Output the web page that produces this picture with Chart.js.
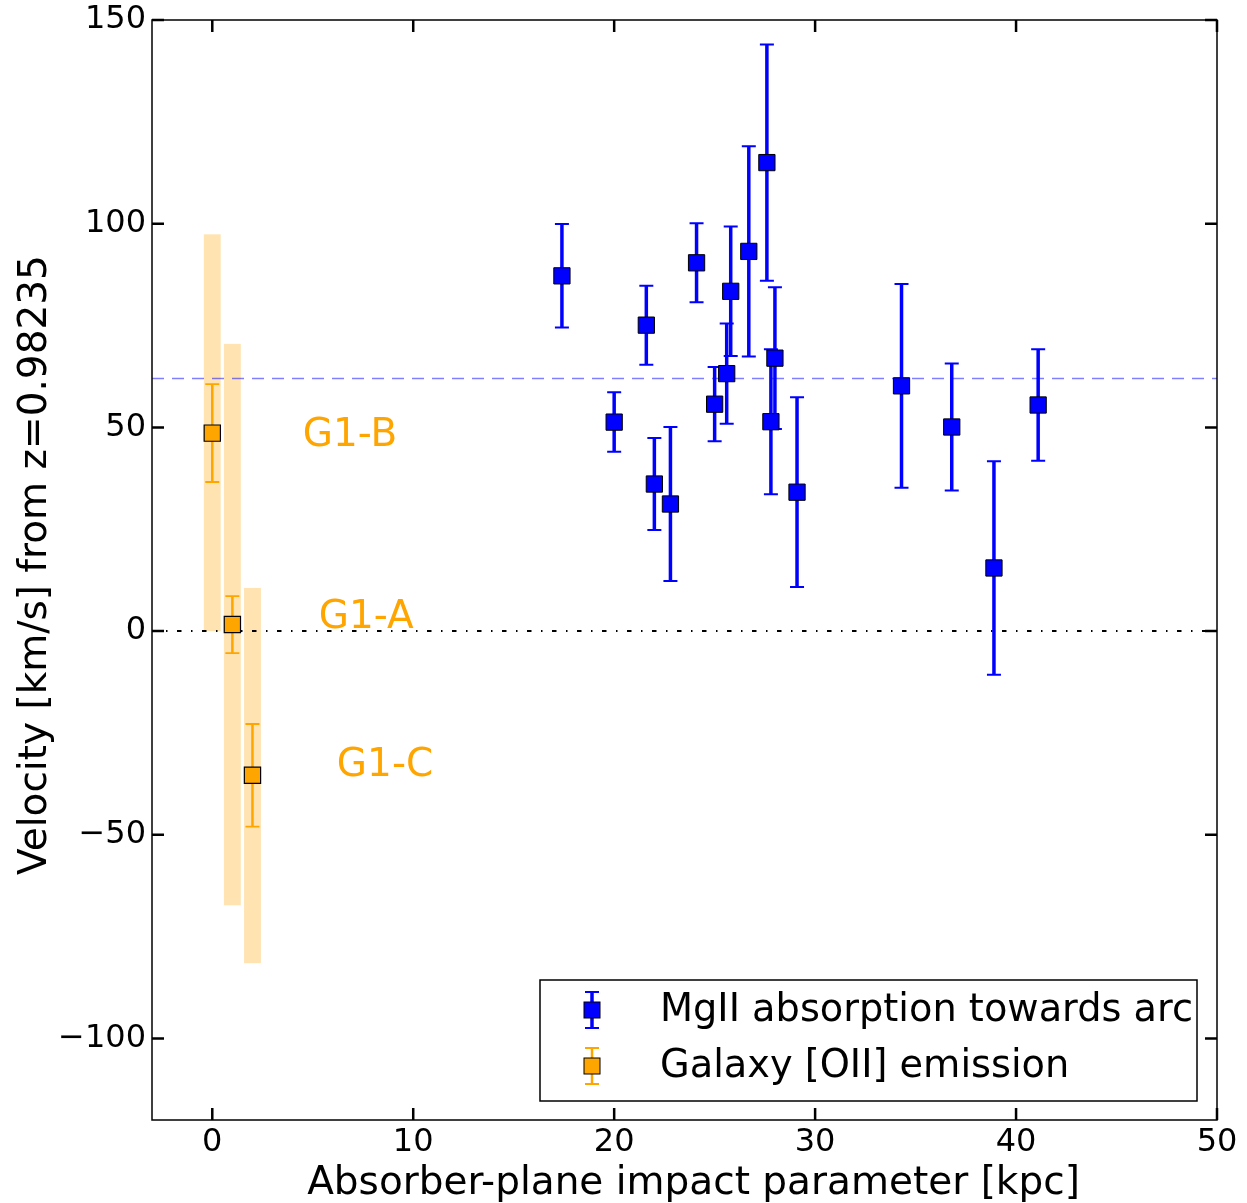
<!DOCTYPE html>
<html>
<head>
<meta charset="utf-8">
<script src="https://cdn.jsdelivr.net/npm/chart.js@4.4.1/dist/chart.umd.min.js"></script>
<style>
  html, body { margin: 0; padding: 0; background: #ffffff; }
  #wrap { width: 1247px; height: 1203px; }
</style>
</head>
<body>
<div id="wrap"><canvas id="chart" width="1247" height="1203"></canvas></div>
<script>
// MgII absorption along the arc: impact parameter [kpc], velocity [km/s], 1-sigma error [km/s]
const mgDistance = [17.4, 20.0, 21.6, 22.0, 22.8, 24.1, 25.0, 25.6, 25.8, 26.7, 27.6, 27.8, 28.0, 29.1, 34.3, 36.8, 38.9, 41.1];
const mgVelocity = [87.2, 51.3, 75.1, 36.1, 31.2, 90.4, 55.7, 63.2, 83.4, 93.2, 115.0, 51.4, 67.0, 34.1, 60.2, 50.1, 15.5, 55.5];
const mgError    = [12.7, 7.3, 9.7, 11.3, 18.9, 9.7, 9.1, 12.3, 15.9, 25.8, 29.0, 17.8, 17.4, 23.3, 25.0, 15.6, 26.2, 13.7];

// Galaxy [OII] emission components
const galNames     = ['G1-B', 'G1-A', 'G1-C'];
const galDistance  = [0, 1, 2];
const galVelocity  = [48.6, 1.6, -35.4];
const galError     = [12.0, 7.0, 12.6];
const galRangeLow  = [0.0, -67.3, -81.5];
const galRangeHigh = [97.4, 70.5, 10.6];

// Mean MgII velocity (dashed reference line)
const mgMeanVelocity = 62;

// Axis ticks and titles
const xTicks = [0, 10, 20, 30, 40, 50];
const yTicks = [-100, -50, 0, 50, 100, 150];
const xTitle = 'Absorber-plane impact parameter [kpc]';
const yTitle = 'Velocity [km/s] from z=0.98235';

const FONT = '"DejaVu Sans", "Liberation Sans", sans-serif';
const BLUE = '#0000ff';
const ORANGE = '#ffa500';

Chart.defaults.font.family = FONT;
Chart.defaults.color = '#000000';

function fmtTick(v) {
  return v < 0 ? '\u2212' + Math.abs(v) : String(v);
}

// Velocity ranges, reference lines and error bars, underneath the markers
const underlayPlugin = {
  id: 'underlay',
  beforeDatasetsDraw(chart) {
    const { ctx, chartArea: a, scales: { x, y } } = chart;
    ctx.save();
    ctx.beginPath();
    ctx.rect(a.left, a.top, a.right - a.left, a.bottom - a.top);
    ctx.clip();

    // galaxy velocity ranges
    ctx.fillStyle = 'rgba(255,165,0,0.3)';
    galDistance.forEach((d, i) => {
      const x0 = x.getPixelForValue(d - 0.42);
      const x1 = x.getPixelForValue(d + 0.42);
      const y0 = y.getPixelForValue(galRangeHigh[i]);
      const y1 = y.getPixelForValue(galRangeLow[i]);
      ctx.fillRect(x0, y0, x1 - x0, y1 - y0);
    });

    // zero velocity (dash-dot)
    ctx.strokeStyle = '#000000';
    ctx.lineWidth = 1.8;
    ctx.setLineDash([4.5, 9.5, 1.5, 9.5]);
    let yy = Math.round(y.getPixelForValue(0));
    ctx.beginPath();
    ctx.moveTo(a.left, yy);
    ctx.lineTo(a.right, yy);
    ctx.stroke();

    // mean MgII velocity (dashed)
    ctx.strokeStyle = 'rgba(0,0,255,0.5)';
    ctx.lineWidth = 1.5;
    ctx.setLineDash([12, 8]);
    yy = y.getPixelForValue(mgMeanVelocity);
    ctx.beginPath();
    ctx.moveTo(a.left, yy);
    ctx.lineTo(a.right, yy);
    ctx.stroke();
    ctx.setLineDash([]);

    // error bars
    const drawErr = (xs, vs, es, color, lw, capW, capLw) => {
      ctx.strokeStyle = color;
      xs.forEach((d, i) => {
        const px = x.getPixelForValue(d);
        const pt = y.getPixelForValue(vs[i] + es[i]);
        const pb = y.getPixelForValue(vs[i] - es[i]);
        ctx.lineWidth = lw;
        ctx.beginPath();
        ctx.moveTo(px, pt);
        ctx.lineTo(px, pb);
        ctx.stroke();
        ctx.lineWidth = capLw;
        ctx.beginPath();
        ctx.moveTo(px - capW / 2, pt);
        ctx.lineTo(px + capW / 2, pt);
        ctx.moveTo(px - capW / 2, pb);
        ctx.lineTo(px + capW / 2, pb);
        ctx.stroke();
      });
    };
    drawErr(mgDistance, mgVelocity, mgError, BLUE, 3.5, 14, 2);
    drawErr(galDistance, galVelocity, galError, ORANGE, 2.5, 14, 1.8);
    ctx.restore();
  }
};

// Frame, inward ticks on all sides, axis titles, component labels and legend
const overlayPlugin = {
  id: 'overlay',
  afterDraw(chart) {
    const { ctx, chartArea: a, scales: { x, y } } = chart;
    ctx.save();

    // component labels
    ctx.fillStyle = ORANGE;
    ctx.font = '39px ' + FONT;
    ctx.textAlign = 'left';
    ctx.textBaseline = 'middle';
    const labelAnchor = [[4.5, 47.9], [5.3, 3.2], [6.2, -33.2]];
    galNames.forEach((n, i) => {
      ctx.fillText(n, x.getPixelForValue(labelAnchor[i][0]), y.getPixelForValue(labelAnchor[i][1]));
    });

    // axis titles
    ctx.fillStyle = '#000000';
    ctx.font = '39px ' + FONT;
    ctx.textAlign = 'center';
    ctx.textBaseline = 'alphabetic';
    ctx.fillText(xTitle, (a.left + a.right) / 2 + 9, 1194);
    ctx.save();
    ctx.translate(46, (a.top + a.bottom) / 2 - 5);
    ctx.rotate(-Math.PI / 2);
    ctx.fillText(yTitle, 0, 0);
    ctx.restore();

    // frame
    ctx.strokeStyle = '#000000';
    ctx.lineWidth = 1.5;
    ctx.strokeRect(a.left, a.top, a.right - a.left, a.bottom - a.top);

    // ticks
    const tl = 12;
    ctx.lineWidth = 2.5;
    ctx.beginPath();
    xTicks.forEach(v => {
      const px = x.getPixelForValue(v);
      ctx.moveTo(px, a.bottom); ctx.lineTo(px, a.bottom - tl);
      ctx.moveTo(px, a.top); ctx.lineTo(px, a.top + tl);
    });
    yTicks.forEach(v => {
      const py = y.getPixelForValue(v);
      ctx.moveTo(a.left, py); ctx.lineTo(a.left + tl, py);
      ctx.moveTo(a.right, py); ctx.lineTo(a.right - tl, py);
    });
    ctx.stroke();

    // legend
    const bw = 657, bh = 121;
    const bx = a.right - 20 - bw, by = a.bottom - 19 - bh;
    ctx.fillStyle = '#ffffff';
    ctx.fillRect(bx, by, bw, bh);
    ctx.strokeStyle = '#000000';
    ctx.lineWidth = 1.5;
    ctx.strokeRect(bx, by, bw, bh);
    const entries = chart.data.datasets.map(ds => ({
      label: ds.label, fill: ds.backgroundColor, err: ds.errColor, lw: ds.errLine
    }));
    entries.forEach((e, i) => {
      const cx = bx + 52, cy = by + 30 + i * 56;
      ctx.strokeStyle = e.err;
      ctx.lineWidth = e.lw;
      ctx.beginPath();
      ctx.moveTo(cx, cy - 18); ctx.lineTo(cx, cy + 18);
      ctx.stroke();
      ctx.lineWidth = 1.8;
      ctx.beginPath();
      ctx.moveTo(cx - 7, cy - 18); ctx.lineTo(cx + 7, cy - 18);
      ctx.moveTo(cx - 7, cy + 18); ctx.lineTo(cx + 7, cy + 18);
      ctx.stroke();
      ctx.fillStyle = e.fill;
      ctx.fillRect(cx - 8, cy - 8, 16, 16);
      ctx.strokeStyle = '#000000';
      ctx.lineWidth = 1;
      ctx.strokeRect(cx - 8, cy - 8, 16, 16);
      ctx.fillStyle = '#000000';
      ctx.font = '38.3px ' + FONT;
      ctx.textAlign = 'left';
      ctx.textBaseline = 'middle';
      ctx.fillText(e.label, bx + 120, cy + 1);
    });
    ctx.restore();
  }
};

new Chart(document.getElementById('chart'), {
  type: 'scatter',
  data: {
    datasets: [
      {
        label: 'MgII absorption towards arc',
        data: mgDistance.map((d, i) => ({ x: d, y: mgVelocity[i] })),
        pointStyle: 'rect',
        pointRadius: 11.5,
        backgroundColor: BLUE,
        borderColor: '#000000',
        borderWidth: 1,
        errColor: BLUE,
        errLine: 3.5
      },
      {
        label: 'Galaxy [OII] emission',
        data: galDistance.map((d, i) => ({ x: d, y: galVelocity[i] })),
        pointStyle: 'rect',
        pointRadius: 11.5,
        backgroundColor: ORANGE,
        borderColor: '#000000',
        borderWidth: 1.2,
        errColor: ORANGE,
        errLine: 2.5
      }
    ]
  },
  options: {
    responsive: false,
    animation: false,
    events: [],
    layout: { padding: { top: 20, right: 30, left: 0, bottom: 0 } },
    plugins: { legend: { display: false }, tooltip: { enabled: false } },
    scales: {
      x: {
        type: 'linear',
        min: -3,
        max: 50,
        afterBuildTicks: s => { s.ticks = xTicks.map(v => ({ value: v })); },
        afterFit: s => { s.height = 83; s.paddingLeft = 0; s.paddingRight = 0; },
        grid: { display: false, drawTicks: false },
        border: { display: false },
        ticks: { font: { size: 32 }, padding: 3, maxRotation: 0, callback: fmtTick },
        title: { display: false, text: xTitle }
      },
      y: {
        type: 'linear',
        min: -120,
        max: 150,
        afterBuildTicks: s => { s.ticks = yTicks.map(v => ({ value: v })); },
        afterFit: s => { s.width = 152; s.paddingTop = 0; s.paddingBottom = 0; },
        grid: { display: false, drawTicks: false },
        border: { display: false },
        ticks: { font: { size: 32 }, padding: 6, callback: fmtTick },
        title: { display: false, text: yTitle }
      }
    }
  },
  plugins: [underlayPlugin, overlayPlugin]
});
</script>
</body>
</html>
